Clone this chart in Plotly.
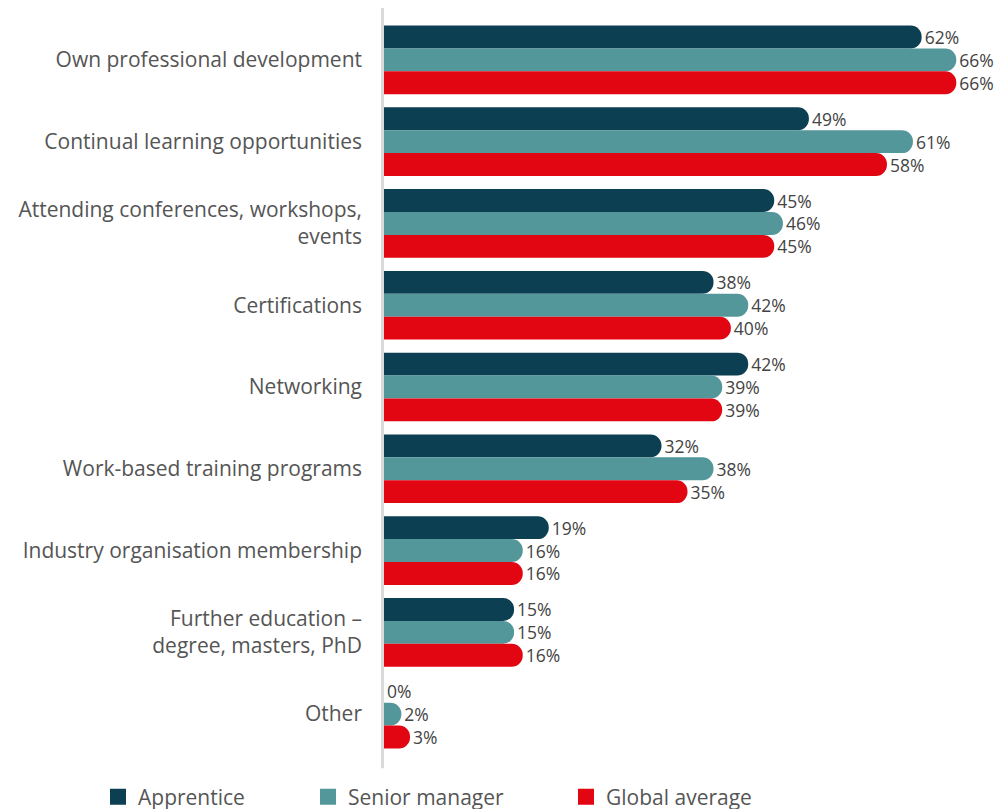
import plotly.graph_objects as go

categories = [
    "Own professional development",
    "Continual learning opportunities",
    "Attending conferences, workshops,<br>events",
    "Certifications",
    "Networking",
    "Work-based training programs",
    "Industry organisation membership",
    "Further education –<br>degree, masters, PhD",
    "Other",
]
apprentice = [62, 49, 45, 38, 42, 32, 19, 15, 0]
senior_manager = [66, 61, 46, 42, 39, 38, 16, 15, 2]
global_average = [66, 58, 45, 40, 39, 35, 16, 16, 3]

series = [
    ("Apprentice", apprentice, "#0c3f52"),
    ("Senior manager", senior_manager, "#53979b"),
    ("Global average", global_average, "#e20613"),
]

FONT = "'Open Sans', sans-serif"
fig = go.Figure()
for name, vals, color in series:
    fig.add_trace(go.Bar(
        y=categories, x=vals, name=name, orientation="h",
        marker=dict(color=color, cornerradius=11, line=dict(width=0)),
        texttemplate="%{x}%", textposition="outside",
        constraintext="none",
        textfont=dict(size=17.5, color="#444444", family=FONT),
        cliponaxis=False, showlegend=False,
    ))

# page body has an 8px margin: figure drawn at offset (8, 8)
OFF = 8
legend_x = [98, 308, 566]
for i, (name, vals, color) in enumerate(series):
    lg = "legend" if i == 0 else f"legend{i+1}"
    fig.add_trace(go.Scatter(
        x=[None], y=[None], mode="markers", name=name,
        marker=dict(symbol="square", size=18, color=color),
        legend=lg, showlegend=True,
    ))

W, H = 1004 - 2 * OFF, 809 - OFF
ml, mt = 384 - OFF, 19 - OFF
mb = H - (755 - OFF)
pw = 607
mr = W - ml - pw
ph = H - mt - mb
layout_legends = {}
for i, px in enumerate(legend_x):
    lg = "legend" if i == 0 else f"legend{i+1}"
    layout_legends[lg] = dict(
        x=(px - OFF - ml) / pw, y=-(797 - 755) / ph,
        xanchor="left", yanchor="middle", orientation="h",
        font=dict(size=21, color="#555555", family=FONT),
        bgcolor="rgba(0,0,0,0)", itemsizing="trace",
    )

fig.update_layout(
    width=W, height=H,
    margin=dict(l=ml, r=mr, t=mt, b=mb, pad=0, autoexpand=False),
    barmode="group", bargap=0.16, bargroupgap=0,
    plot_bgcolor="white", paper_bgcolor="white",
    font=dict(family=FONT, color="#555555"),
    xaxis=dict(range=[0, 70], visible=False, fixedrange=True),
    yaxis=dict(autorange="reversed", showgrid=False, showline=False,
               ticks="", ticklabelstandoff=21, automargin=False,
               tickfont=dict(size=21, color="#555555", family=FONT)),
    shapes=[dict(type="line", xref="paper", yref="paper",
                 x0=-0.0025, x1=-0.0025, y0=-0.018, y1=1.018,
                 line=dict(color="#d9d9d9", width=3))],
    **layout_legends,
)

fig.write_html("out.html")
